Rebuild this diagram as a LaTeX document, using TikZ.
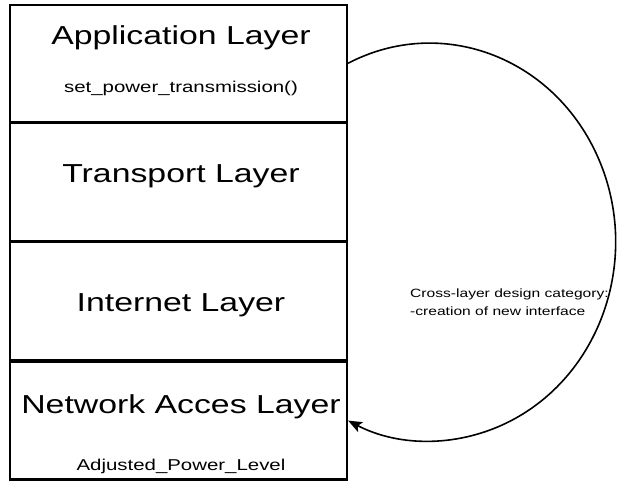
\documentclass[tikz,border=0pt]{standalone}
\usepackage{fontspec}
\setmainfont{Liberation Sans}[FakeStretch=1.3]
\usetikzlibrary{arrows.meta}
\begin{document}
\begin{tikzpicture}[x=1pt,y=-1pt,
  layerbox/.style={draw=black, line width=2.2pt, minimum width=337pt, inner sep=0pt},
  big/.style={font=\fontsize{26}{30}\selectfont, inner sep=0pt, anchor=base},
  small/.style={font=\fontsize{15.7}{18}\selectfont, inner sep=0pt, anchor=base},
  note/.style={font=\fontsize{12}{14}\selectfont, inner sep=0pt, anchor=base west},
  conn/.style={line width=1.6pt, -{Stealth[length=14pt,width=11pt,inset=3pt]}}]
\useasboundingbox (0,0) rectangle (617,481);
\node[layerbox, minimum height=117pt] (app) at (178.5,63.25) {};
\node[layerbox, minimum height=118pt] (trans) at (178.5,182) {};
\node[layerbox, minimum height=118pt] (inet) at (178.5,301.3) {};
\node[layerbox, minimum height=117.8pt] (net) at (178.5,420.6) {};
\node[big] (appt) at (181,45) {Application Layer};
\node[small] (apps) at (181,93) {set\_power\_transmission()};
\node[big] (transt) at (181,182) {Transport Layer};
\node[big] (inett) at (181,311) {Internet Layer};
\node[big] (nett) at (181,413) {Network Acces Layer};
\node[small] (nets) at (181,470.5) {Adjusted\_Power\_Level};
\node[note] (n1) at (410,297) {Cross-layer design category:};
\node[note] (n2) at (410,315) {-creation of new interface};
\draw[conn] (app.east) arc[start angle=116, end angle=-116, x radius=186, y radius=-198.8];
\end{tikzpicture}
\end{document}
